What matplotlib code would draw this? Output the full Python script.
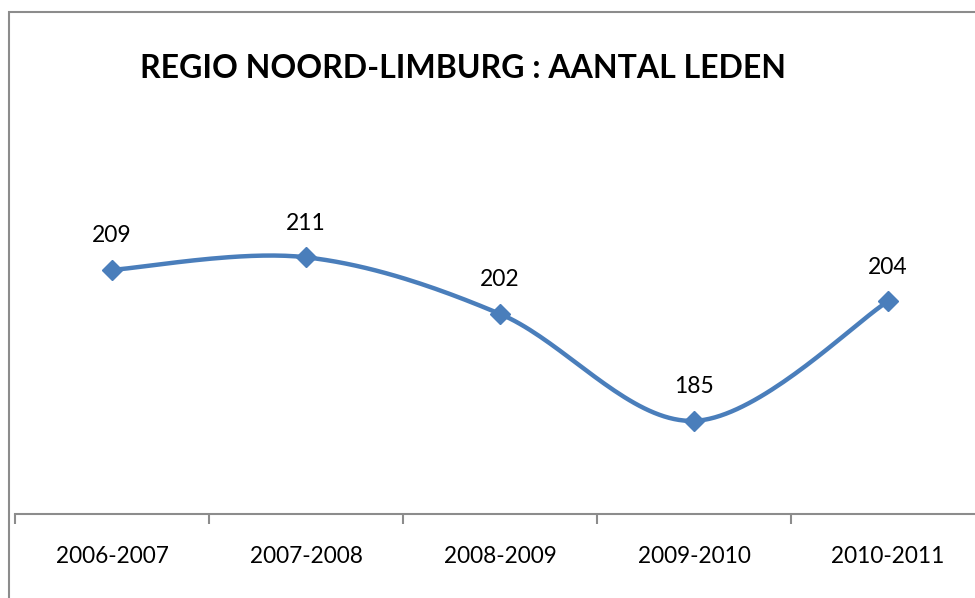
import matplotlib
matplotlib.use("Agg")
import matplotlib.pyplot as plt
import numpy as np
from matplotlib.patches import Rectangle

plt.rcParams['font.family'] = ['Lato', 'DejaVu Sans']

seizoenen = ['2006-2007', '2007-2008', '2008-2009', '2009-2010', '2010-2011']
leden = [209, 211, 202, 185, 204]
titel = 'REGIO NOORD-LIMBURG : AANTAL LEDEN'

blauw = '#4A7EBB'
grijs = '#8C8C8C'


def smooth(x, y, n=40):
    # Catmull-Rom spline through the points, like a smoothed office line
    x = np.asarray(x, float)
    y = np.asarray(y, float)
    px = np.concatenate([[x[0]], x, [x[-1]]])
    py = np.concatenate([[y[0]], y, [y[-1]]])
    xs, ys = [], []
    t = np.linspace(0, 1, n)
    for i in range(1, len(px) - 2):
        p0, p1, p2, p3 = [np.array([px[j], py[j]]) for j in range(i - 1, i + 3)]
        c1 = p1 + (p2 - p0) / 6
        c2 = p2 - (p3 - p1) / 6
        pts = ((1 - t)[:, None] ** 3 * p1 + 3 * ((1 - t) ** 2 * t)[:, None] * c1
               + 3 * ((1 - t) * t ** 2)[:, None] * c2 + (t ** 3)[:, None] * p2)
        xs.extend(pts[:, 0])
        ys.extend(pts[:, 1])
    return xs, ys


fig = plt.figure(figsize=(9.75, 5.98), dpi=100)

# chart border
fig.patches.append(Rectangle((9 / 975, -0.1), 1.2, 1 - 12 / 598 + 0.1,
                             transform=fig.transFigure, fill=False,
                             edgecolor=grijs, linewidth=1.5))

ax = fig.add_axes([15 / 975, 84 / 598, 970 / 975, 414 / 598])
x = np.arange(len(seizoenen))
sx, sy = smooth(x, leden)
ax.plot(sx, sy, color=blauw, linewidth=3.2, solid_capstyle='round', clip_on=False)
ax.plot(x, leden, linestyle='none', marker='D', markersize=10.5,
        color=blauw, clip_on=False)

for xi, v in zip(x, leden):
    ax.annotate(str(v), (xi, v), xytext=(0, 17), textcoords='offset points',
                ha='center', va='bottom', fontsize=16.5)

ax.set_xlim(-0.5, len(seizoenen) - 0.5)
ax.set_ylim(170.2, 236)

ax.set_xticks(x)
ax.set_xticklabels(seizoenen, fontsize=16.3)
ax.tick_params(axis='x', which='major', length=0, pad=23)
ax.set_xticks(np.arange(-0.5, len(seizoenen)), minor=True)
ax.tick_params(axis='x', which='minor', length=7, width=1.5, color=grijs, direction='out')
ax.set_yticks([])

for s in ['top', 'right', 'left']:
    ax.spines[s].set_visible(False)
ax.spines['bottom'].set_color(grijs)
ax.spines['bottom'].set_linewidth(1.5)

fig.text(463 / 975, 1 - 68 / 598, titel, fontsize=23, fontweight='bold',
         ha='center', va='center')

fig.savefig('out.png', dpi=100)
